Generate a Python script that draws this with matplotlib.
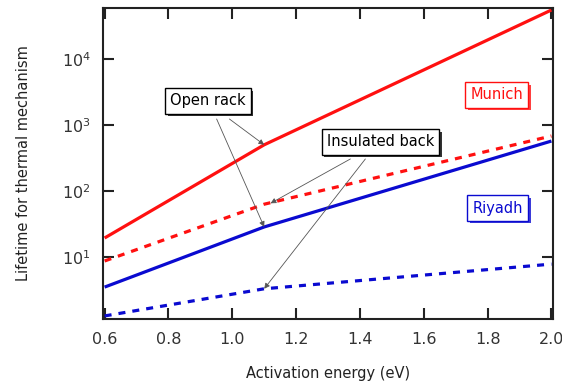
import matplotlib
matplotlib.use("Agg")
import matplotlib.pyplot as plt
import matplotlib.patheffects as pe

plt.rcParams['font.family'] = 'DejaVu Sans'

# Activation energy grid (eV): start, knee, end
energy = [0.6, 1.1, 2.0]

# Lifetimes for each site / mounting
munich_open = [19.4, 500, 55000]
munich_insulated = [8.7, 63, 680]
riyadh_open = [3.5, 28.5, 570]
riyadh_insulated = [1.28, 3.3, 7.8]

RED = '#ff1010'
BLUE = '#0a0ad0'
DASH = (0, (2.2, 2.2))

fig = plt.figure(figsize=(5.62, 3.81), dpi=100)
ax = fig.add_axes([0.1833, 0.1627, 0.8007, 0.8163])

ax.plot(energy, munich_open, color=RED, lw=2.3, solid_capstyle='butt')
ax.plot(energy, munich_insulated, color=RED, lw=2.3, ls=DASH)
ax.plot(energy, riyadh_open, color=BLUE, lw=2.3, solid_capstyle='butt')
ax.plot(energy, riyadh_insulated, color=BLUE, lw=2.3, ls=DASH)

ax.set_yscale('log')
ax.set_xlim(0.595, 2.005)
ax.set_ylim(1.15, 5.9e4)
ax.set_yticks([1e1, 1e2, 1e3, 1e4])
ax.minorticks_off()
ax.set_xticks([0.6, 0.8, 1.0, 1.2, 1.4, 1.6, 1.8, 2.0])
ax.set_xticklabels(['0.6', '0.8', '1.0', '1.2', '1.4', '1.6', '1.8', '2.0'])

for s in ax.spines.values():
    s.set_linewidth(1.5)
    s.set_color('#222222')
ax.tick_params(which='both', direction='in', top=True, right=True,
               length=8, width=1.5, color='#222222', labelsize=11.5,
               labelcolor='#333333', pad=9)

ax.set_xlabel('Activation energy (eV)', fontsize=10.5, color='#222222', labelpad=14)
ax.set_ylabel('Lifetime for thermal mechanism', fontsize=10.5, color='#222222', labelpad=22)


def boxed(x, y, text, color):
    t = ax.text(x, y, text, ha='center', va='center', fontsize=10.5, color=color,
                bbox=dict(boxstyle='square,pad=0.35', fc='white', ec=color, lw=1.0))
    t.get_bbox_patch().set_path_effects([
        pe.SimplePatchShadow(offset=(2, -2), shadow_rgbFace=color, alpha=0.8),
        pe.Normal()])
    return t


boxed(0.923, 2310, 'Open rack', 'black')
boxed(1.464, 552, 'Insulated back', 'black')
boxed(1.828, 2850, 'Munich', RED)
boxed(1.831, 55, 'Riyadh', BLUE)

arrow = dict(arrowstyle='-|>', color='#555555', lw=0.6, mutation_scale=8,
             shrinkA=0, shrinkB=0)
ax.annotate('', xy=(energy[1], munich_open[1]), xytext=(0.991, 1230), arrowprops=arrow)
ax.annotate('', xy=(energy[1], riyadh_open[1]), xytext=(0.951, 1230), arrowprops=arrow)
ax.annotate('', xy=(1.12, 65), xytext=(1.370, 305), arrowprops=arrow)
ax.annotate('', xy=(energy[1], riyadh_insulated[1]), xytext=(1.417, 305), arrowprops=arrow)

fig.savefig('out.png', dpi=100)
